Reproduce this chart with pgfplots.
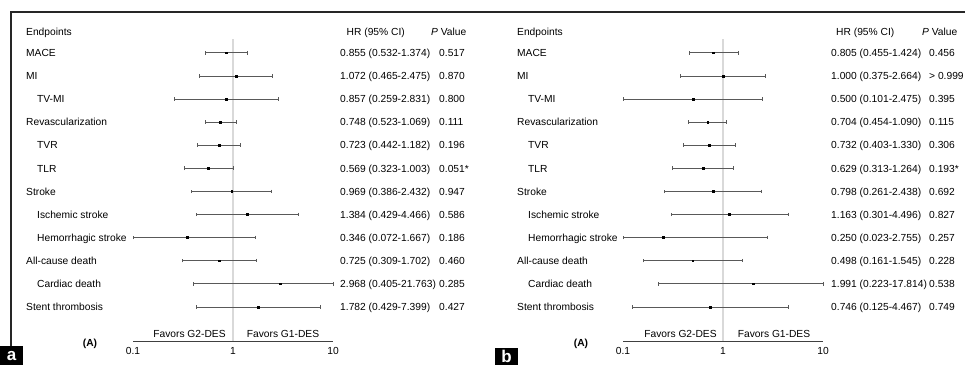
\documentclass[border=0pt]{standalone}
\usepackage{pgfplots}
\pgfplotsset{compat=1.18}
\usepackage{pgfplotstable}
\usepackage{fontspec}
\setmainfont{Liberation Sans}
\newcommand\tf{\fontsize{10.25}{12}\selectfont}

% row, HR, lower, upper
\pgfplotstableread{
row hr lo hi
0 0.855 0.532 1.374
1 1.072 0.465 2.475
2 0.857 0.259 2.831
3 0.748 0.523 1.069
4 0.723 0.442 1.182
5 0.569 0.323 1.003
6 0.969 0.386 2.432
7 1.384 0.429 4.466
8 0.346 0.072 1.667
9 0.725 0.309 1.702
10 2.968 0.405 21.763
11 1.782 0.429 7.399
}\dataA
\pgfplotstableread{
row hr lo hi
0 0.805 0.455 1.424
1 1.000 0.375 2.664
2 0.500 0.101 2.475
3 0.704 0.454 1.090
4 0.732 0.403 1.330
5 0.629 0.313 1.264
6 0.798 0.261 2.438
7 1.163 0.301 4.496
8 0.250 0.023 2.755
9 0.498 0.161 1.545
10 1.991 0.223 17.814
11 0.746 0.125 4.467
}\dataB

\begin{document}
\begin{tikzpicture}
\path[use as bounding box] (0,0) rectangle (965pt,365pt);
\draw[line width=1.2pt, black!85] (11pt,18pt) -- (11pt,353pt) -- (965pt,353pt);

% panel a
\begin{axis}[
    at={(133pt,24pt)},
    anchor=south west, scale only axis, width=200pt, height=302pt,
    xmode=log, xmin=0.1, xmax=10,
    ymin=-0.593, ymax=12.48, y dir=reverse,
    axis x line=bottom, axis y line=none,
    x axis line style={-, black!75, line width=0.7pt},
    xtick={0.1,1,10}, xticklabels={0.1,1,10}, xminorticks=false,
    major tick length=0pt,
    xticklabel style={font=\tf, yshift=-3pt},
    clip=false,
  ]
\addplot[gray!30, line width=1.3pt] coordinates {(1,-0.593) (1,12.48)};
\addplot[only marks, mark=square*, mark size=0.9pt, black,
    error bars/.cd, x dir=both, x explicit,
    error bar style={line width=0.6pt, black!65},
    error mark=|,
    error mark options={mark size=1.8pt, line width=0.6pt, black!65}]
  table[x=hr, y=row,
  x error plus expr={min(\thisrow{hi},10)-\thisrow{hr}},
  x error minus expr={\thisrow{hr}-max(\thisrow{lo},0.1)}] {\dataA};
\end{axis}

% panel b
\begin{axis}[
    at={(623pt,24pt)},
    anchor=south west, scale only axis, width=200pt, height=302pt,
    xmode=log, xmin=0.1, xmax=10,
    ymin=-0.593, ymax=12.48, y dir=reverse,
    axis x line=bottom, axis y line=none,
    x axis line style={-, black!75, line width=0.7pt},
    xtick={0.1,1,10}, xticklabels={0.1,1,10}, xminorticks=false,
    major tick length=0pt,
    xticklabel style={font=\tf, yshift=-3pt},
    clip=false,
  ]
\addplot[gray!30, line width=1.3pt] coordinates {(1,-0.593) (1,12.48)};
\addplot[only marks, mark=square*, mark size=0.9pt, black,
    error bars/.cd, x dir=both, x explicit,
    error bar style={line width=0.6pt, black!65},
    error mark=|,
    error mark options={mark size=1.8pt, line width=0.6pt, black!65}]
  table[x=hr, y=row,
  x error plus expr={min(\thisrow{hi},10)-\thisrow{hr}},
  x error minus expr={\thisrow{hr}-max(\thisrow{lo},0.1)}] {\dataB};
\end{axis}

% headers
\foreach \ox/\hx/\px in {0/346.5/431, 491/836/922} {
  \node[anchor=base west, inner sep=0, font=\tf] at ({26pt+\ox pt},329.2pt) {Endpoints};
  \node[anchor=base west, inner sep=0, font=\tf] at (\hx pt,329.2pt) {HR (95\% CI)};
  \node[anchor=base west, inner sep=0, font=\tf] at (\px pt,329.2pt) {\textit{P} Value};
  \node[font=\tf] at ({189.5pt+\ox pt},31pt) {Favors G2-DES};
  \node[font=\tf] at ({283pt+\ox pt},31pt) {Favors G1-DES};
  \node[font=\tf\bfseries] at ({90pt+\ox pt},21pt) {(A)};
}

% labels
\foreach \i/\lab/\ind in {0/MACE/0, 1/MI/0, 2/TV-MI/1, 3/Revascularization/0, 4/TVR/1, 5/TLR/1, 6/Stroke/0, 7/Ischemic stroke/1, 8/Hemorrhagic stroke/1, 9/All-cause death/0, 10/Cardiac death/1, 11/Stent thrombosis/0} {
  \pgfmathsetmacro\yy{308.5-23.1*\i}
  \node[anchor=base west, inner sep=0, font=\tf] at ({26pt+11pt*\ind},\yy pt) {\lab};
  \node[anchor=base west, inner sep=0, font=\tf] at ({517pt+11pt*\ind},\yy pt) {\lab};
}

% panel a values
\foreach \i/\hr/\p in {0/0.855 (0.532-1.374)/0.517, 1/1.072 (0.465-2.475)/0.870, 2/0.857 (0.259-2.831)/0.800, 3/0.748 (0.523-1.069)/0.111, 4/0.723 (0.442-1.182)/0.196, 5/0.569 (0.323-1.003)/0.051*, 6/0.969 (0.386-2.432)/0.947, 7/1.384 (0.429-4.466)/0.586, 8/0.346 (0.072-1.667)/0.186, 9/0.725 (0.309-1.702)/0.460, 10/2.968 (0.405-21.763)/0.285, 11/1.782 (0.429-7.399)/0.427} {
  \pgfmathsetmacro\yy{308.5-23.1*\i}
  \node[anchor=base west, inner sep=0, font=\tf] at (340pt,\yy pt) {\hr};
  \node[anchor=base west, inner sep=0, font=\tf] at (439pt,\yy pt) {\p};
}
% panel b values
\foreach \i/\hr/\p in {0/0.805 (0.455-1.424)/0.456, 1/1.000 (0.375-2.664)/{> 0.999}, 2/0.500 (0.101-2.475)/0.395, 3/0.704 (0.454-1.090)/0.115, 4/0.732 (0.403-1.330)/0.306, 5/0.629 (0.313-1.264)/0.193*, 6/0.798 (0.261-2.438)/0.692, 7/1.163 (0.301-4.496)/0.827, 8/0.250 (0.023-2.755)/0.257, 9/0.498 (0.161-1.545)/0.228, 10/1.991 (0.223-17.814)/0.538, 11/0.746 (0.125-4.467)/0.749} {
  \pgfmathsetmacro\yy{308.5-23.1*\i}
  \node[anchor=base west, inner sep=0, font=\tf] at (831pt,\yy pt) {\hr};
  \node[anchor=base west, inner sep=0, font=\tf] at (929pt,\yy pt) {\p};
}

% panel letters
\fill[black] (0,0) rectangle (23pt,19pt);
\node[text=white, font=\fontsize{17}{17}\selectfont\bfseries, inner sep=0] at (11.5pt,9pt) {a};
\fill[black] (495pt,0) rectangle (518pt,17pt);
\node[text=white, font=\fontsize{17}{17}\selectfont\bfseries, inner sep=0] at (506.5pt,8.5pt) {b};
\end{tikzpicture}
\end{document}
